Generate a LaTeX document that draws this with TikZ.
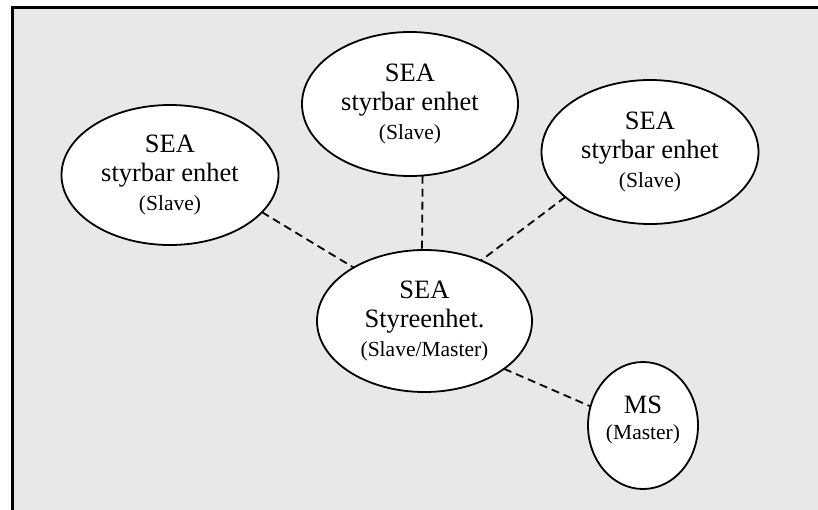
\documentclass[tikz,border=0pt]{standalone}
\usepackage{fontspec}
\setmainfont{Liberation Serif}
\usetikzlibrary{shapes.geometric}
\definecolor{panelgray}{RGB}{232,232,232}
\newcommand{\rolefont}{\fontsize{21.5}{27}\selectfont}
\tikzset{
  unit/.style={ellipse, draw=black, line width=1.8pt, fill=white,
    inner sep=0pt, outer sep=0pt, align=center,
    font=\fontsize{26.5}{29}\selectfont},
  link/.style={draw=black, line width=1.8pt, dash pattern=on 8pt off 5pt},
}
\begin{document}
\begin{tikzpicture}[x=1pt,y=-1pt]
  \useasboundingbox (0,0) rectangle (818,509);
  \clip (0,0) rectangle (818,509);
  % panel, open towards the right and bottom edges
  \fill[panelgray] (12,7) rectangle (830,520);
  \draw[line width=3pt] (12,520) -- (12,7) -- (830,7);

  % units
  \node[unit, minimum width=217pt, minimum height=140pt] (left) at (170,175)
    {SEA\\styrbar enhet\\{\rolefont (Slave)}};
  \node[unit, minimum width=216pt, minimum height=144pt] (top) at (410,104)
    {SEA\\styrbar enhet\\{\rolefont (Slave)}};
  \node[unit, minimum width=217pt, minimum height=144pt] (right) at (650,152)
    {SEA\\styrbar enhet\\{\rolefont (Slave)}};
  \node[unit, minimum width=215pt, minimum height=142pt] (ctrl) at (424.5,321)
    {SEA\\Styreenhet.\\{\rolefont (Slave/Master)}};
  \node[unit, minimum width=110pt, minimum height=127pt] (ms) at (643,425.5)
    {MS\\[-3pt]{\rolefont (Master)}\\[-13pt]{}};

  % links
  \draw[link] (left.-22) -- (ctrl.143);
  \draw[link] (top.-80.5) -- (ctrl.92);
  \draw[link] (right.-152.4) -- (ctrl.47.4);
  \draw[link] (ctrl.-31) -- (ms.160);
\end{tikzpicture}
\end{document}
